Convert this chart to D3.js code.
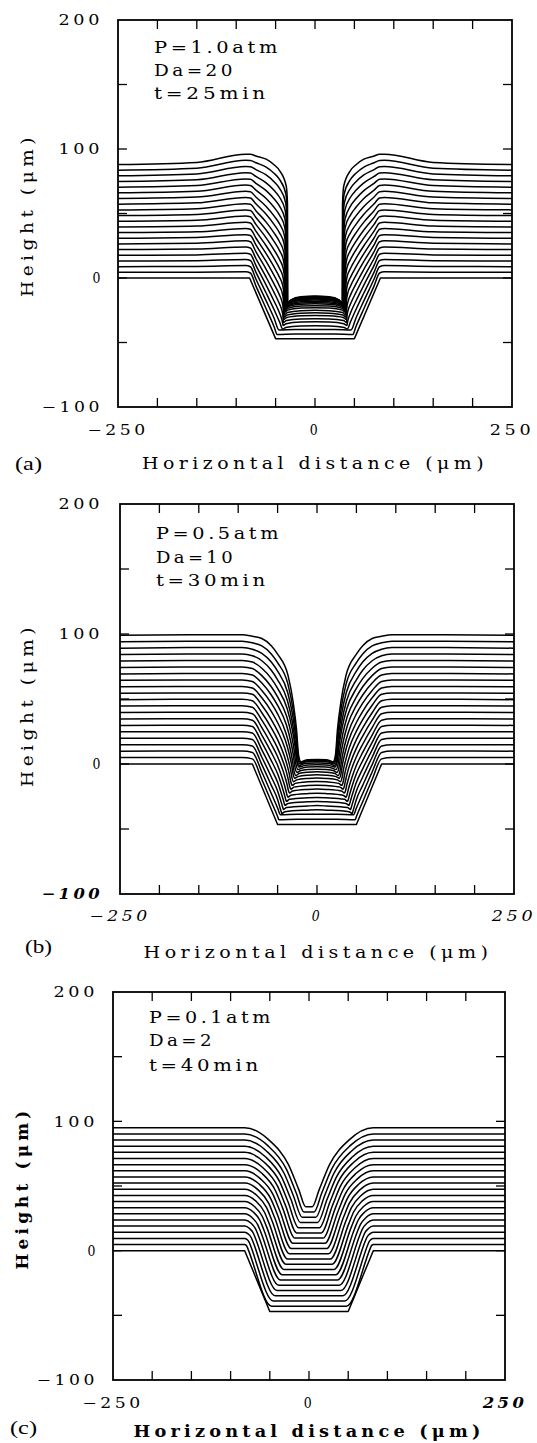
<!DOCTYPE html>
<html><head><meta charset="utf-8">
<script src="https://cdn.jsdelivr.net/npm/d3@7"></script>
<style>body{margin:0;background:#fff}</style>
</head><body>
<svg id="chart" width="537" height="1443"></svg>
<script>
// ---------- DATA (left half of each film-growth profile, x in µm, height in µm; trench is symmetric about x=0) ----------
const xTickValues = [-250, 0, 250];
const yTickValues = [200, 100, 0, -100];
const xMinorTicks = [-200, -150, -100, -50, 0, 50, 100, 150, 200];
const yMinorTicks = [150, 100, 50, 0, -50];

const paramsA = ["P=1.0atm", "Da=20", "t=25min"];
const paramsB = ["P=0.5atm", "Da=10", "t=30min"];
const paramsC = ["P=0.1atm", "Da=2", "t=40min"];

// (a) P=1.0 atm, Da=20
const profilesA = [
[[-250,0],[-83,0],[-50,-47],[0,-47]],
[[-250,4.4],[-150,4.48],[-88,4.8],[-82,3.85],[-75,-6.1],[-62,-23.8],[-52,-37.6],[-48,-43.8],[-25,-43.5],[0,-43.5]],
[[-250,8.8],[-150,8.96],[-88,9.6],[-82,8.7],[-75,-0.8],[-62,-17.7],[-52,-31],[-45.6,-40.3],[-25,-40],[0,-40]],
[[-250,13.2],[-150,13.44],[-88,14.4],[-82,13.55],[-75,4.5],[-62,-11.6],[-52,-24.4],[-45,-34],[-41,-39.6],[-37,-38.3],[-18,-37.2],[0,-37]],
[[-250,17.6],[-150,17.92],[-88,19.2],[-82,18.4],[-75,9.8],[-62,-5.5],[-52,-17.8],[-45,-27.1],[-42.6,-31.1],[-41.0,-35.1],[-40.6,-36.8],[-36.6,-35.4],[-18,-34.2],[0,-34]],
[[-250,22],[-150,22.4],[-88,24],[-82,23.25],[-75,15.1],[-62,0.6],[-52,-11.2],[-45,-20.2],[-42.2,-24.7],[-40.6,-29.3],[-40.2,-34.5],[-36.2,-33.0],[-18,-31.7],[0,-31.5]],
[[-250,26.4],[-150,26.88],[-88,28.8],[-82,28.1],[-75,20.4],[-62,6.7],[-52,-4.6],[-45,-13.3],[-41.9,-18.3],[-40.3,-23.6],[-39.9,-32.2],[-35.9,-30.6],[-18,-29.3],[0,-29]],
[[-250,30.8],[-150,31.36],[-88,33.6],[-82,32.95],[-75,25.7],[-62,12.8],[-52,2],[-45,-6.4],[-41.5,-11.9],[-39.9,-17.8],[-39.5,-30.4],[-35.5,-28.7],[-18,-27.3],[0,-27]],
[[-250,35.2],[-150,35.84],[-88,38.4],[-82,37.8],[-75,31],[-62,18.9],[-52,8.6],[-45,0.5],[-41.1,-5.5],[-39.5,-12],[-39.1,-28.6],[-35.1,-26.8],[-18,-25.3],[0,-25]],
[[-250,39.6],[-150,40.32],[-88,43.2],[-82,42.65],[-75,36.3],[-62,25],[-52,15.2],[-45,7.4],[-40.7,0.9],[-39.1,-6.2],[-38.7,-26.8],[-34.7,-24.9],[-18,-23.3],[0,-23]],
[[-250,44],[-150,44.8],[-88,48],[-82,47.5],[-75,41.6],[-62,31.1],[-52,21.8],[-45,14.3],[-40.3,7.3],[-38.7,-0.5],[-38.3,-25.5],[-34.3,-23.5],[-18,-21.8],[0,-21.5]],
[[-250,48.4],[-150,49.28],[-88,52.8],[-82,52.35],[-75,46.9],[-62,37.2],[-52,28.4],[-45,21.2],[-40,13.7],[-38.4,5.3],[-38,-24.2],[-34,-22.1],[-18,-20.3],[0,-20]],
[[-250,52.8],[-150,53.76],[-88,57.6],[-82,57.2],[-75,52.2],[-62,43.3],[-52,35],[-45,28.1],[-39.6,20.1],[-38,11.1],[-37.6,-23.4],[-33.6,-21.2],[-18,-19.4],[0,-19]],
[[-250,57.2],[-150,58.24],[-88,62.4],[-82,62.05],[-75,57.5],[-62,49.4],[-52,41.6],[-45,35],[-39.2,26.5],[-37.6,16.9],[-37.2,-22.6],[-33.2,-20.3],[-18,-18.4],[0,-18]],
[[-250,61.6],[-150,62.72],[-88,67.2],[-82,66.9],[-75,62.8],[-62,55.5],[-52,48.2],[-45,41.9],[-38.8,32.9],[-37.2,22.6],[-36.8,-21.8],[-32.8,-19.4],[-18,-17.4],[0,-17]],
[[-250,66],[-150,67.2],[-88,72],[-82,71.75],[-75,68.1],[-62,61.6],[-52,54.8],[-45,48.8],[-38.4,39.3],[-36.8,28.4],[-36.4,-21.3],[-32.4,-18.8],[-18,-16.7],[0,-16.3]],
[[-250,70.4],[-150,71.68],[-88,76.8],[-82,76.6],[-75,73.4],[-62,67.7],[-52,61.4],[-45,55.7],[-38.1,45.7],[-36.5,34.2],[-36.1,-20.9],[-32.1,-18.3],[-18,-16.1],[0,-15.7]],
[[-250,74.8],[-150,76.16],[-88,81.6],[-82,81.45],[-75,78.7],[-62,73.8],[-52,68],[-45,62.6],[-37.7,52.1],[-36.1,40],[-35.7,-20.6],[-31.7,-17.9],[-18,-15.6],[0,-15.2]],
[[-250,79.2],[-150,80.64],[-88,86.4],[-82,86.3],[-75,84],[-62,79.9],[-52,74.6],[-45,69.5],[-37.3,58.5],[-35.7,45.7],[-35.3,-20.4],[-31.3,-17.6],[-18,-15.2],[0,-14.8]],
[[-250,83.6],[-150,85.12],[-88,91.2],[-82,91.15],[-75,89.3],[-62,86],[-52,81.2],[-45,76.4],[-36.9,64.9],[-35.3,51.5],[-34.9,-20.2],[-30.9,-17.3],[-18,-14.9],[0,-14.4]],
[[-250,88],[-150,89.6],[-88,96],[-82,96],[-75,94.6],[-62,92.1],[-52,87.8],[-45,83.3],[-36.5,71.3],[-34.9,57.3],[-34.5,-20],[-30.5,-17],[-18,-14.5],[0,-14]]
];

// (b) P=0.5 atm, Da=10
const profilesB = [
[[-250,0],[-82,0],[-50,-46.5],[0,-46.5]],
[[-250,4.95],[-150,4.975],[-95,4.975],[-82,3.96],[-70,-11.9],[-58,-29],[-50,-40.4],[-48.5,-42.8],[-25,-42.5],[0,-42.5]],
[[-250,9.9],[-150,9.95],[-95,9.95],[-82,8.9],[-70,-6.2],[-58,-22.7],[-50,-33.85],[-46.4,-39],[-25,-38.7],[0,-38.7]],
[[-250,14.85],[-150,14.9],[-95,14.9],[-82,13.9],[-70,-0.5],[-58,-16.4],[-50,-27.3],[-47.6,-32.2],[-46.5,-34.6],[-45.7,-36.1],[-45.2,-37.1],[-44.7,-38.2],[-40.7,-36.7],[-12,-35.5],[0,-35.2]],
[[-250,19.8],[-150,19.9],[-95,19.9],[-82,18.8],[-70,5.2],[-58,-10],[-50,-20.7],[-46.7,-26.9],[-45.1,-30.1],[-44.1,-32.2],[-43.4,-33.6],[-42.7,-35],[-38.7,-33.5],[-12,-32.3],[0,-32]],
[[-250,24.75],[-150,24.9],[-95,24.9],[-82,23.8],[-70,10.9],[-58,-3.7],[-50,-14.1],[-45.9,-21.5],[-43.8,-25.5],[-42.5,-28.2],[-41.7,-30.1],[-40.8,-31.8],[-36.8,-30.3],[-12,-29.1],[0,-28.8]],
[[-250,29.7],[-150,29.85],[-95,29.85],[-82,28.8],[-70,16.6],[-58,2.6],[-50,-7.55],[-45,-16.1],[-42.6,-20.9],[-41,-24.3],[-40,-26.7],[-38.9,-28.7],[-34.9,-27.2],[-12,-26],[0,-25.7]],
[[-250,34.65],[-150,34.8],[-95,34.8],[-82,33.7],[-70,22.3],[-58,8.9],[-50,-0.98],[-44.2,-10.6],[-41.3,-16.1],[-39.5,-20.2],[-38.3,-23.3],[-37,-25.5],[-33,-24],[-12,-22.8],[0,-22.5]],
[[-250,39.6],[-150,39.8],[-95,39.8],[-82,38.7],[-70,28],[-58,15.2],[-50,5.6],[-43.25,-4.9],[-39.95,-11.3],[-37.85,-16.1],[-36.5,-19.8],[-35,-22.3],[-31,-20.8],[-12,-19.6],[0,-19.3]],
[[-250,44.55],[-150,44.8],[-95,44.8],[-82,43.6],[-70,33.7],[-58,21.5],[-50,12.2],[-42.4,0.8],[-38.7,-6.4],[-36.4,-12.1],[-34.9,-16.6],[-33.2,-19.3],[-29.2,-17.8],[-12,-16.6],[0,-16.3]],
[[-250,49.5],[-150,49.75],[-95,49.75],[-82,48.6],[-70,39.45],[-58,27.85],[-50,18.75],[-41.7,6.55],[-37.6,-1.6],[-35,-8.1],[-33.35,-13.45],[-31.5,-16.4],[-27.5,-14.9],[-12,-13.7],[0,-13.4]],
[[-250,54.45],[-150,54.7],[-95,54.7],[-82,53.6],[-70,45.2],[-58,34.2],[-50,25.3],[-40.9,12.4],[-36.5,3.2],[-33.6,-4.2],[-31.8,-10.5],[-29.8,-13.66],[-25.8,-12.2],[-12,-11.1],[0,-10.8]],
[[-250,59.4],[-150,59.7],[-95,59.7],[-82,58.5],[-70,50.9],[-58,40.5],[-50,31.9],[-40.2,18.25],[-35.4,8.1],[-32.3,-0.4],[-30.4,-7.6],[-28.2,-11.02],[-24.2,-9.7],[-12,-8.6],[0,-8.3]],
[[-250,64.35],[-150,64.7],[-95,64.7],[-82,63.5],[-70,56.6],[-58,46.8],[-50,38.5],[-39.6,24.1],[-34.5,12.9],[-31.3,3.2],[-29.2,-5.3],[-26.9,-8.88],[-22.9,-7.3],[-12,-6.3],[0,-6]],
[[-250,69.3],[-150,69.65],[-95,69.65],[-82,68.4],[-70,62.3],[-58,53.1],[-50,45.05],[-38.9,30.2],[-33.5,17.9],[-30.1,7],[-27.9,-2.6],[-25.4,-6.44],[-21.4,-5.2],[-12,-4.2],[0,-4]],
[[-250,74.25],[-150,74.6],[-95,74.6],[-82,73.4],[-70,68],[-58,59.4],[-50,51.6],[-38.3,36.3],[-32.6,22.8],[-29,10.7],[-26.7,-0.3],[-24.1,-4.3],[-20.1,-3.35],[-12,-2.4],[0,-2.2]],
[[-250,79.2],[-150,79.6],[-95,79.6],[-82,78.4],[-70,73.7],[-58,65.7],[-50,58.2],[-37.8,42.5],[-31.8,27.8],[-28,14.2],[-25.6,1.8],[-22.9,-2.36],[-18.9,-1.7],[-12,-0.8],[0,-0.6]],
[[-250,84.15],[-150,84.6],[-95,84.6],[-82,83.3],[-70,79.4],[-58,72.1],[-50,64.8],[-37.5,48.7],[-31.4,32.5],[-27.6,17.3],[-25.1,3.2],[-22.3,-1.22],[-18.3,-0.2],[-12,0.6],[0,0.8]],
[[-250,89.1],[-150,89.55],[-95,89.55],[-82,88.3],[-70,85.1],[-58,78.4],[-50,71.35],[-37.2,55],[-30.9,37.4],[-26.9,20.5],[-24.4,4.7],[-21.5,0.02],[-17.5,1],[-12,1.7],[0,1.9]],
[[-250,94.05],[-150,94.5],[-95,94.5],[-82,93.2],[-70,90.8],[-58,84.7],[-50,77.9],[-36.9,61.4],[-30.5,42.3],[-26.4,23.6],[-23.8,5.7],[-20.9,0.96],[-16.9,1.8],[-12,2.5],[0,2.7]],
[[-250,99],[-150,99.5],[-95,99.5],[-82,98.2],[-70,96.5],[-58,91],[-50,84.5],[-36.7,68],[-30.2,47.3],[-26,26.6],[-23.4,6.8],[-20.4,1.8],[-16.4,2.6],[-12,3.2],[0,3.4]]
];

// (c) P=0.1 atm, Da=2
const profilesC = [
[[-250,0],[-82,0],[-50,-47],[0,-47]],
[[-250,4.75],[-120,4.75],[-82,4.75],[-80.4,4.27],[-79.2,3.33],[-78.5,2.35],[-47.7,-42.95],[0,-42.95]],
[[-250,9.5],[-120,9.5],[-82,9.5],[-78.9,8.55],[-76.4,6.65],[-75.1,4.7],[-45.4,-38.9],[0,-38.9]],
[[-250,14.25],[-120,14.25],[-82,14.25],[-77.3,12.8],[-73.6,9.98],[-71.6,7.05],[-43.1,-34.85],[0,-34.85]],
[[-250,19],[-120,19],[-82,19],[-75.8,17.1],[-70.8,13.3],[-68.2,9.4],[-40.8,-30.8],[0,-30.8]],
[[-250,23.75],[-120,23.75],[-82,23.75],[-74.2,21.4],[-68,16.6],[-64.7,11.7],[-38.55,-26.75],[0,-26.75]],
[[-250,28.5],[-120,28.5],[-82,28.5],[-72.7,25.6],[-65.3,19.95],[-61.3,14.1],[-36.3,-22.7],[0,-22.7]],
[[-250,33.25],[-120,33.25],[-82,33.25],[-71.1,29.9],[-62.5,23.3],[-57.8,16.4],[-34,-18.65],[0,-18.65]],
[[-250,38],[-120,38],[-82,38],[-69.6,34.2],[-59.7,26.6],[-54.3,18.8],[-31.7,-14.6],[0,-14.6]],
[[-250,42.75],[-120,42.75],[-82,42.75],[-68,38.5],[-56.9,29.9],[-50.9,21.1],[-29.4,-10.55],[0,-10.55]],
[[-250,47.5],[-120,47.5],[-82,47.5],[-66.45,42.7],[-54.1,33.25],[-47.4,23.5],[-27.1,-6.5],[0,-6.5]],
[[-250,52.25],[-120,52.25],[-82,52.25],[-64.9,47],[-51.3,36.6],[-44,25.8],[-24.8,-2.45],[0,-2.45]],
[[-250,57],[-120,57],[-82,57],[-63.3,51.3],[-48.5,39.9],[-40.5,28.2],[-22.5,1.6],[0,1.6]],
[[-250,61.75],[-120,61.75],[-82,61.75],[-61.8,55.5],[-45.7,43.2],[-37.1,30.5],[-20.2,5.65],[0,5.65]],
[[-250,66.5],[-120,66.5],[-82,66.5],[-60.2,59.8],[-42.9,46.55],[-33.6,32.9],[-17.9,9.7],[0,9.7]],
[[-250,71.25],[-120,71.25],[-82,71.25],[-58.7,64.1],[-40.1,49.9],[-30.1,35.2],[-15.65,13.75],[0,13.75]],
[[-250,76],[-120,76],[-82,76],[-57.1,68.4],[-37.3,53.2],[-26.7,37.6],[-13.4,17.8],[0,17.8]],
[[-250,80.75],[-120,80.75],[-82,80.75],[-55.6,72.6],[-34.6,56.5],[-23.2,39.9],[-11.1,21.85],[0,21.85]],
[[-250,85.5],[-120,85.5],[-82,85.5],[-54,76.9],[-31.8,59.85],[-19.8,42.3],[-8.8,25.9],[0,25.9]],
[[-250,90.25],[-120,90.25],[-82,90.25],[-52.5,81.2],[-29,63.2],[-16.3,44.6],[-6.5,29.95],[0,29.95]],
[[-250,95],[-120,95],[-82,95],[-50.9,85.5],[-26.2,66.5],[-12.9,47],[-4.2,34],[0,34]]
];

// ---------- LAYOUT ----------
const panels = [
  {profiles: profilesA, params: paramsA, tag: "(a)",
   L:118, R:512, T:20, B:407, yTickRight:103, xTickY:430,
   xTitle:{cx:315, cy:463, w:346, weight:"normal"}, yTitle:{cx:27, cy:215, w:164, weight:"normal"},
   tagPos:{x:15, cy:463}, annot:{x:154, cy:[47,70,93], w:[127,82,115]},
   xTickStyle:["normal","normal","normal"], yMinStyle:"normal"},
  {profiles: profilesB, params: paramsB, tag: "(b)",
   L:120, R:514, T:504, B:894, yTickRight:103, xTickY:916,
   xTitle:{cx:318, cy:952, w:349, weight:"normal"}, yTitle:{cx:27, cy:705, w:164, weight:"normal"},
   tagPos:{x:25, cy:946}, annot:{x:156, cy:[533,557,580], w:[126,80,113]},
   xTickStyle:["italic","italic","italic"], yMinStyle:"italic"},
  {profiles: profilesC, params: paramsC, tag: "(c)",
   L:113, R:505, T:992, B:1380, yTickRight:98, xTickY:1403,
   xTitle:{cx:309, cy:1431, w:351, weight:"bold"}, yTitle:{cx:22, cy:1188, w:163, weight:"bold"},
   tagPos:{x:10, cy:1427}, annot:{x:149, cy:[1017,1040,1065], w:[125,66,113]},
   xTickStyle:["normal","normal","italic"], yMinStyle:"normal"}
];

const svg = d3.select("#chart");
svg.append("rect").attr("width",537).attr("height",1443).attr("fill","#fff");

function fmt(v){ return v < 0 ? "\u2212" + Math.abs(v) : String(v); }
function tickW(str){ const n = str.length; return 10.5*n + 6.5*(n-1); }

function label(g, str, o){
  const size = o.size || 14.5;
  const t = g.append("text").text(str)
    .attr("font-family", o.family || "'DejaVu Serif'")
    .attr("font-size", size)
    .attr("font-weight", o.weight || "normal")
    .attr("font-style", o.style || "normal")
    .attr("letter-spacing", o.ls != null ? o.ls : 0)
    .attr("fill", "#000");
  if (o.w) t.attr("textLength", o.w).attr("lengthAdjust", "spacingAndGlyphs");
  const off = size * 0.36;
  if (o.rotate) {
    t.attr("transform", `translate(${o.x},${o.cy}) rotate(-90)`).attr("x", -o.w/2).attr("y", off);
  } else {
    let x0 = o.x;
    if (o.anchor === "end") x0 = o.x - o.w;
    else if (o.anchor === "middle") x0 = o.x - o.w/2;
    t.attr("x", x0).attr("y", o.cy + off);
  }
  return t;
}

function mirror(left){
  const right = left.slice(0, -1).reverse().map(([x, y]) => [-x, y]);
  return left.concat(right);
}

panels.forEach(p => {
  const g = svg.append("g");
  const x = d3.scaleLinear().domain([-250, 250]).range([p.L, p.R]);
  const y = d3.scaleLinear().domain([-100, 200]).range([p.B, p.T]);

  // profiles
  p.profiles.forEach((left, k) => {
    const line = d3.line().x(d => x(d[0])).y(d => y(d[1]))
      .curve(k === 0 ? d3.curveLinear : d3.curveMonotoneX);
    g.append("path").attr("d", line(mirror(left)))
      .attr("fill", "none").attr("stroke", "#000").attr("stroke-width", 1.5)
      .attr("stroke-linejoin", "round");
  });

  // frame
  g.append("rect").attr("x", p.L).attr("y", p.T).attr("width", p.R - p.L).attr("height", p.B - p.T)
    .attr("fill", "none").attr("stroke", "#000").attr("stroke-width", 1.8);

  // inward ticks
  const tl = 9;
  xMinorTicks.forEach(v => {
    g.append("line").attr("x1", x(v)).attr("x2", x(v)).attr("y1", p.T).attr("y2", p.T + tl).attr("stroke","#000").attr("stroke-width",1.3);
    g.append("line").attr("x1", x(v)).attr("x2", x(v)).attr("y1", p.B).attr("y2", p.B - tl).attr("stroke","#000").attr("stroke-width",1.3);
  });
  yMinorTicks.forEach(v => {
    g.append("line").attr("y1", y(v)).attr("y2", y(v)).attr("x1", p.L).attr("x2", p.L + tl).attr("stroke","#000").attr("stroke-width",1.3);
    g.append("line").attr("y1", y(v)).attr("y2", y(v)).attr("x1", p.R).attr("x2", p.R - tl).attr("stroke","#000").attr("stroke-width",1.3);
  });

  // y tick labels
  yTickValues.forEach(v => {
    const s = fmt(v);
    label(g, s, {x: p.yTickRight, cy: y(v), w: tickW(s), anchor: "end", ls: 3,
      style: v < 0 ? p.yMinStyle : "normal", weight: (v < 0 && p.yMinStyle === "italic") ? "bold" : "normal"});
  });
  // x tick labels
  xTickValues.forEach((v, i) => {
    const s = fmt(v);
    const st = p.xTickStyle[i];
    label(g, s, {x: x(v), cy: p.xTickY, w: tickW(s), anchor: "middle", ls: 3,
      style: st, weight: st === "italic" && p.tag === "(c)" ? "bold" : "normal"});
  });

  // axis titles
  label(g, "Horizontal distance (\u03bcm)", {x: p.xTitle.cx, cy: p.xTitle.cy, w: p.xTitle.w, anchor: "middle",
    size: 17, ls: 4, weight: p.xTitle.weight});
  label(g, "Height (\u03bcm)", {x: p.yTitle.cx, cy: p.yTitle.cy, w: p.yTitle.w, rotate: true,
    size: 16, ls: 4, weight: p.yTitle.weight});

  // panel tag
  label(g, p.tag, {x: p.tagPos.x, cy: p.tagPos.cy, w: 27, size: 19, family: "'Liberation Serif'"});

  // annotation
  p.params.forEach((s, i) => {
    label(g, s, {x: p.annot.x, cy: p.annot.cy[i], w: p.annot.w[i], size: 16, ls: 3});
  });
});
</script>
</body></html>
